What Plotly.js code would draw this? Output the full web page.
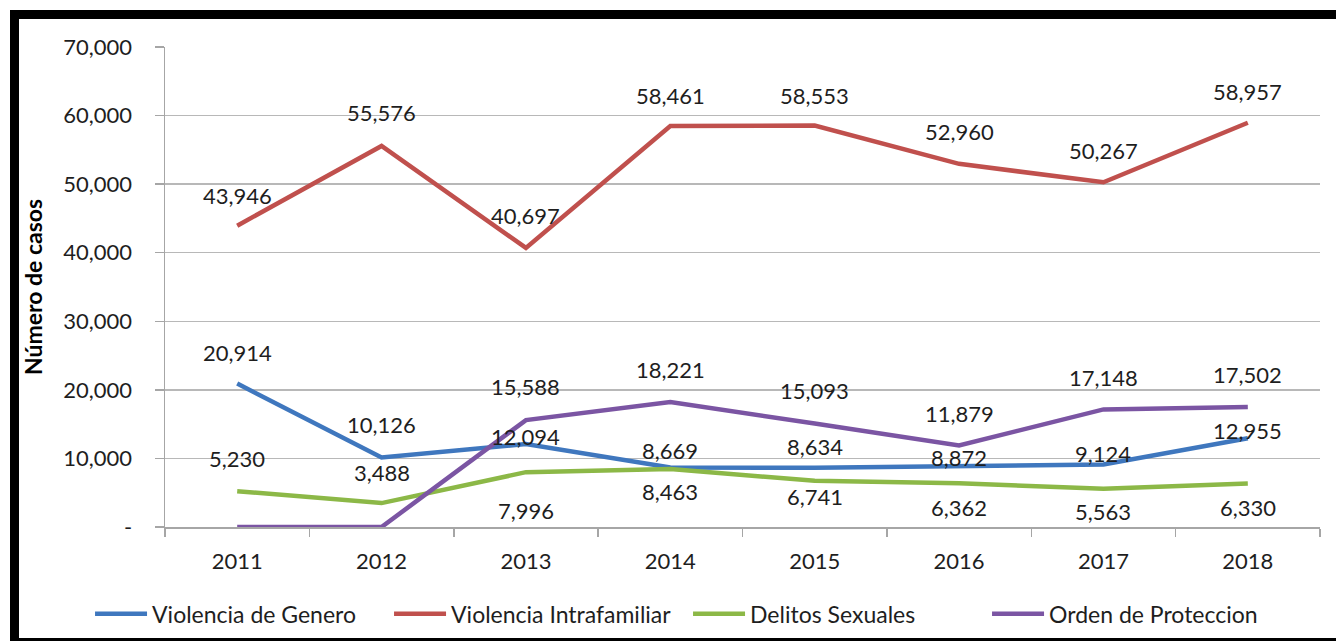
<!DOCTYPE html>
<html>
<head>
<meta charset="utf-8">
<script src="https://cdn.plot.ly/plotly-3.0.1.min.js"></script>
<style>
  html, body { margin: 0; padding: 0; width: 1336px; height: 641px; overflow: hidden; background: #ffffff; }
  #frame { position: absolute; left: 10px; top: 10px; width: 1400px; height: 619px; border-left: 9px solid #000; border-top: 9px solid #000; border-bottom: 9px solid #000; box-sizing: content-box; background: #fff; }
  #chart { position: absolute; left: 0; top: 0; width: 1336px; height: 641px; }
</style>
</head>
<body>
<div id="frame"></div>
<div id="chart"></div>
<script>
// ---- data ----
const years = ["2011", "2012", "2013", "2014", "2015", "2016", "2017", "2018"];
const violenciaGenero = [20914, 10126, 12094, 8669, 8634, 8872, 9124, 12955];
const violenciaIntrafamiliar = [43946, 55576, 40697, 58461, 58553, 52960, 50267, 58957];
const delitosSexuales = [5230, 3488, 7996, 8463, 6741, 6362, 5563, 6330];
const ordenProteccion = [0, 0, 15588, 18221, 15093, 11879, 17148, 17502];
const seriesNames = ["Violencia de Genero", "Violencia Intrafamiliar", "Delitos Sexuales", "Orden de Proteccion"];
const yTickVals = [0, 10000, 20000, 30000, 40000, 50000, 60000, 70000];
const yTickText = ["-", "10,000", "20,000", "30,000", "40,000", "50,000", "60,000", "70,000"];

// ---- label placement (pixel offsets, layout only) ----
const shiftGenero = [31, 33, 8, 17, 21, 9, 11, 8];
const shiftIntra = [30, 33, 32, 31, 30, 32, 32, 31];
const shiftDelitos = [33, 31, -38, -23, -16, -24, -23, -24];
const shiftOrden = [0, 0, 34, 33, 33, 32, 32, 32];

const colors = ["#3F77BE", "#C0504D", "#8CB847", "#7B55A3"];
const allSeries = [violenciaGenero, violenciaIntrafamiliar, delitosSexuales, ordenProteccion];
const allShifts = [shiftGenero, shiftIntra, shiftDelitos, shiftOrden];

const FONT = "Lato, 'Open Sans', sans-serif";
const TXT = "#1e1e1e";

const traces = allSeries.map((vals, i) => ({
  type: "scatter",
  mode: "lines",
  x: years,
  y: vals,
  name: seriesNames[i],
  line: { color: colors[i], width: 4.5 },
  hoverinfo: "x+y+name"
}));

const fmt = v => v.toLocaleString("en-US");
const annotations = [];
allSeries.forEach((vals, i) => {
  vals.forEach((v, j) => {
    if (v === 0) return;
    annotations.push({
      x: j, y: v, xref: "x", yref: "y",
      text: fmt(v), showarrow: false,
      xanchor: "center", yanchor: "middle",
      yshift: allShifts[i][j],
      font: { family: FONT, size: 22, color: TXT }
    });
  });
});

const layout = {
  width: 1336, height: 641,
  margin: { l: 165, r: 16, t: 47, b: 114, autoexpand: false },
  paper_bgcolor: "rgba(0,0,0,0)",
  plot_bgcolor: "rgba(0,0,0,0)",
  font: { family: FONT, size: 22, color: TXT },
  showlegend: true,
  legend: {
    orientation: "h",
    x: -0.0649, xanchor: "left",
    y: -0.181, yanchor: "middle",
    font: { family: FONT, size: 23, color: TXT },
    itemwidth: 52,
    entrywidth: 232, entrywidthmode: "pixels"
  },
  xaxis: {
    type: "category",
    range: [-0.5, 7.5],
    showline: true, linecolor: "#A6A6A6", linewidth: 1.5,
    ticks: "outside", tickson: "boundaries", ticklen: 8, tickcolor: "#A6A6A6", tickwidth: 1.5,
    showgrid: false,
    tickfont: { family: FONT, size: 22, color: TXT },
    ticklabelstandoff: 14
  },
  yaxis: {
    range: [0, 70000],
    tickvals: yTickVals, ticktext: yTickText,
    showline: true, linecolor: "#A6A6A6", linewidth: 1.5,
    ticks: "outside", ticklen: 9, tickcolor: "#A6A6A6", tickwidth: 1.5,
    showgrid: true, gridcolor: "#B8B8B8", gridwidth: 1.5,
    zeroline: false,
    tickfont: { family: FONT, size: 22, color: TXT },
    ticklabelstandoff: 18,
    title: { text: "Número de casos", font: { family: FONT, size: 23, color: "#000", weight: "bold" }, standoff: 14 }
  },
  annotations: annotations
};

Plotly.newPlot("chart", traces, layout, { displayModeBar: false, staticPlot: true });
</script>
</body>
</html>
